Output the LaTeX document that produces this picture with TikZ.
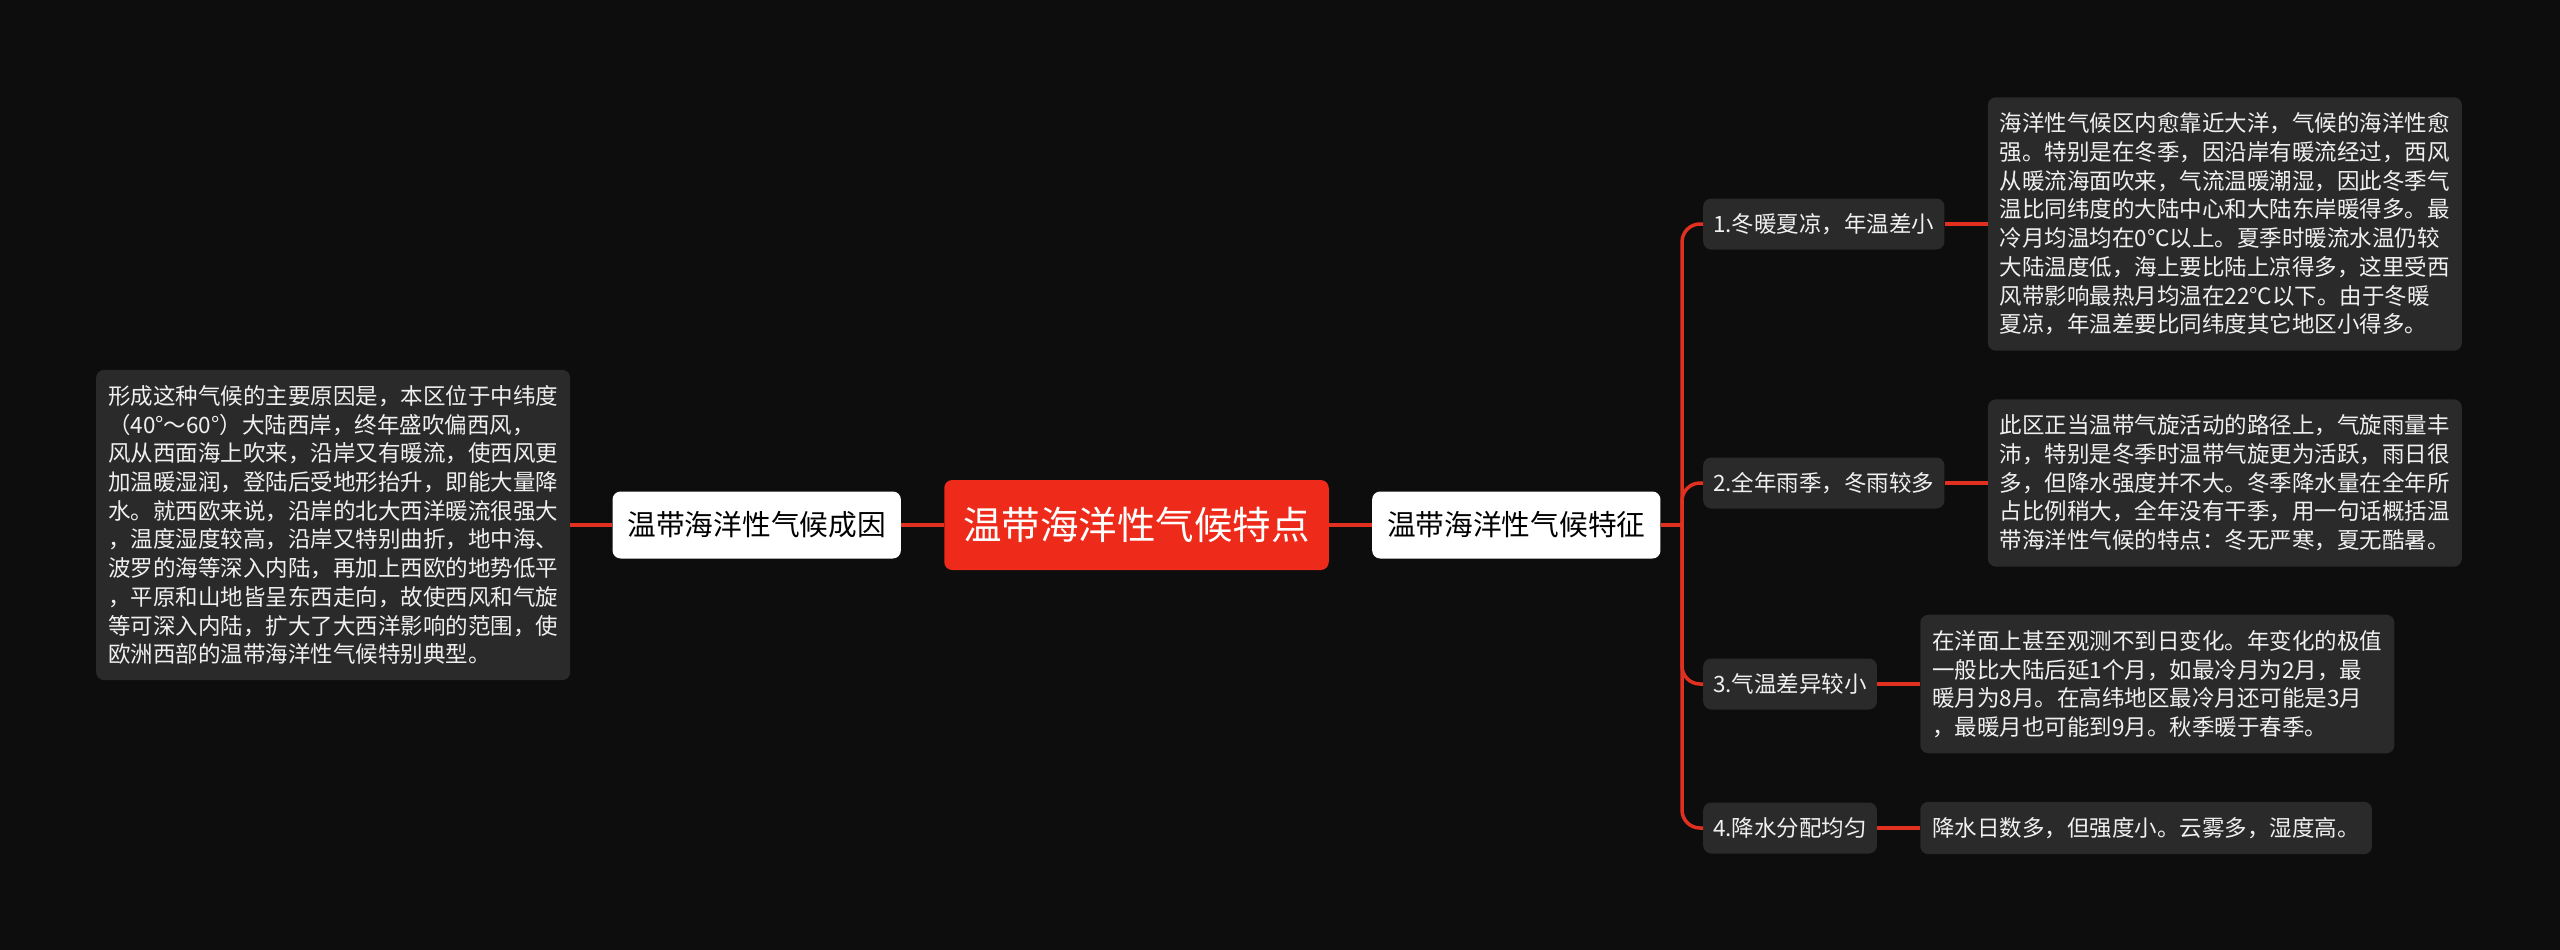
\documentclass[tikz,border=0pt]{standalone}
\usepackage{fontspec}
\setmainfont{Noto Sans CJK SC}
\usepackage{xcolor}
\usepackage{tikz}
\usetikzlibrary{positioning, calc}
\definecolor{bgdark}{RGB}{13, 13, 13}
\definecolor{rootred}{RGB}{238, 42, 26}
\definecolor{linkred}{RGB}{226, 48, 32}
\definecolor{cardgray}{RGB}{42, 42, 42}
\definecolor{cardtext}{RGB}{240, 240, 240}

\begin{document}
\begin{tikzpicture}[x=1pt, y=-1pt,
    link/.style={draw=linkred, line width=3.5pt},
    rootbox/.style={fill=rootred, text=white, rounded corners=8pt, inner xsep=19pt, minimum height=90pt, font=\fontsize{38.5}{46}\selectfont},
    branchbox/.style={fill=white, text=black, rounded corners=8pt, inner xsep=15pt, minimum height=67pt, font=\fontsize{28.7}{34}\selectfont},
    topicbox/.style={fill=cardgray, text=cardtext, rounded corners=8pt, inner xsep=10pt, minimum height=51pt, anchor=west, font=\fontsize{22.5}{28.7}\selectfont},
    notebox/.style={fill=cardgray, text=cardtext, rounded corners=8pt, inner xsep=12pt, inner ysep=15.5pt, align=left, font=\fontsize{22.5}{28.7}\selectfont}]
    % Background
    \fill[bgdark] (0, 0) rectangle (2560, 950);

    % Centre and branches
    \node[rootbox] (root) at (1136.5, 525) {温带海洋性气候特点};
    \node[branchbox, left=43pt of root] (cause) {温带海洋性气候成因};
    \node[branchbox, right=43pt of root] (feature) {温带海洋性气候特征};

    % Cause note
    \node[notebox, left=42pt of cause] (causenote) {形成这种气候的主要原因是，本区位于中纬度\\
（40°～60°）大陆西岸，终年盛吹偏西风，\\
风从西面海上吹来，沿岸又有暖流，使西风更\\
加温暖湿润，登陆后受地形抬升，即能大量降\\
水。就西欧来说，沿岸的北大西洋暖流很强大\\
，温度湿度较高，沿岸又特别曲折，地中海、\\
波罗的海等深入内陆，再加上西欧的地势低平\\
，平原和山地皆呈东西走向，故使西风和气旋\\
等可深入内陆，扩大了大西洋影响的范围，使\\
欧洲西部的温带海洋性气候特别典型。};

    % Feature topics
    \node[topicbox] (topic1) at (1703, 224) {1.冬暖夏凉，年温差小};
    \node[topicbox] (topic2) at (1703, 483) {2.全年雨季，冬雨较多};
    \node[topicbox] (topic3) at (1703, 684) {3.气温差异较小};
    \node[topicbox] (topic4) at (1703, 828) {4.降水分配均匀};

    % Feature notes
    \node[notebox, right=43pt of topic1] (note1) {海洋性气候区内愈靠近大洋，气候的海洋性愈\\
强。特别是在冬季，因沿岸有暖流经过，西风\\
从暖流海面吹来，气流温暖潮湿，因此冬季气\\
温比同纬度的大陆中心和大陆东岸暖得多。最\\
冷月均温均在0℃以上。夏季时暖流水温仍较\\
大陆温度低，海上要比陆上凉得多，这里受西\\
风带影响最热月均温在22℃以下。由于冬暖\\
夏凉，年温差要比同纬度其它地区小得多。};
    \node[notebox, right=43pt of topic2] (note2) {此区正当温带气旋活动的路径上，气旋雨量丰\\
沛，特别是冬季时温带气旋更为活跃，雨日很\\
多，但降水强度并不大。冬季降水量在全年所\\
占比例稍大，全年没有干季，用一句话概括温\\
带海洋性气候的特点：冬无严寒，夏无酷暑。};
    \node[notebox, right=43pt of topic3] (note3) {在洋面上甚至观测不到日变化。年变化的极值\\
一般比大陆后延1个月，如最冷月为2月，最\\
暖月为8月。在高纬地区最冷月还可能是3月\\
，最暖月也可能到9月。秋季暖于春季。};
    \node[notebox, right=43pt of topic4] (note4) {降水日数多，但强度小。云雾多，湿度高。};

    % Connectors
    \coordinate (hub) at (1682, 525);
    \draw[link] (root.west) -- (cause.east);
    \draw[link] (cause.west) -- (causenote.east);
    \draw[link] (root.east) -- (feature.west);
    \draw[link] (feature.east) -- (hub);
    \foreach \i in {1,...,4} {
        \draw[link, rounded corners=18pt] (hub) |- (topic\i.west);
        \draw[link] (topic\i.east) -- (note\i.west);
    }
\end{tikzpicture}
\end{document}
